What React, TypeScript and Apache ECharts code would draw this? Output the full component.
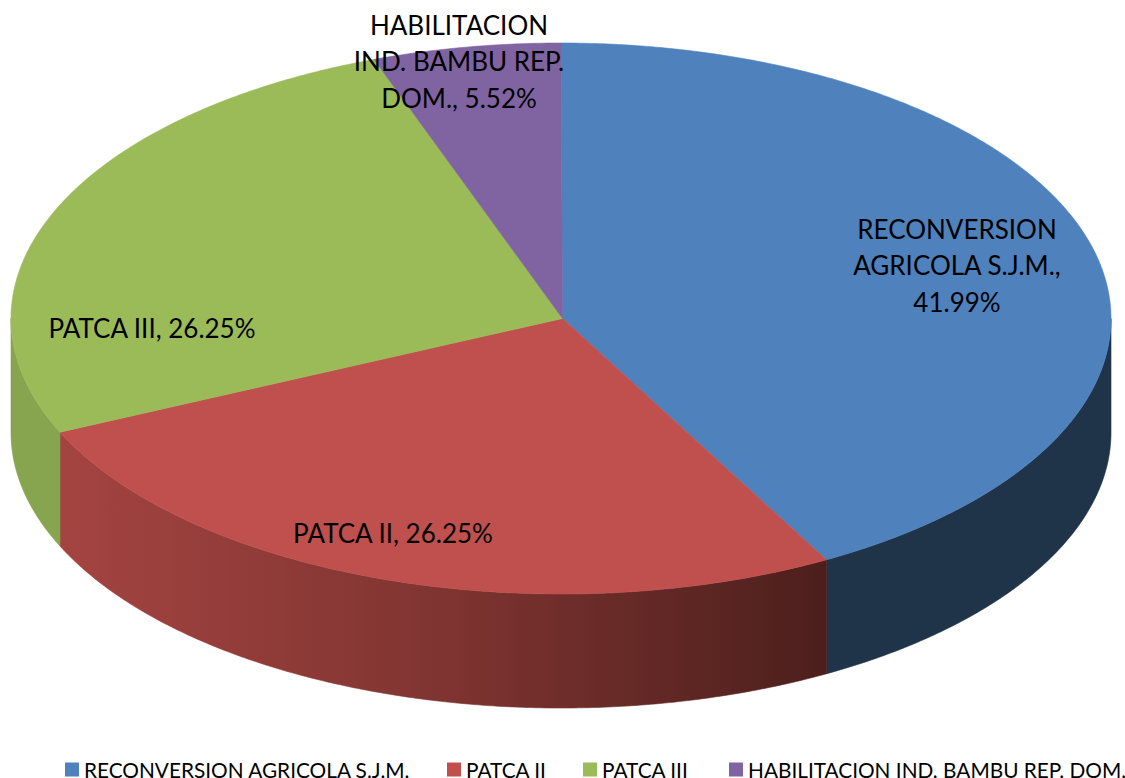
import React, { useEffect, useRef } from "react";
import * as echarts from "echarts";

const sliceNames = [
  "RECONVERSION AGRICOLA S.J.M.",
  "PATCA II",
  "PATCA III",
  "HABILITACION IND. BAMBU REP. DOM.",
];
const sliceValues = [41.99, 26.25, 26.25, 5.52];
const labelLines = [
  ["RECONVERSION", "AGRICOLA S.J.M.,"],
  ["PATCA II,"],
  ["PATCA III,"],
  ["HABILITACION", "IND. BAMBU REP.", "DOM.,"],
];
const breakAfter = [[true, true], [false], [false], [true, true, false]];
const topColors = ["#4F81BD", "#C0504D", "#9BBB59", "#8064A2"];
const labelCenters = [
  [957, 265],
  [393, 533],
  [152, 328],
  [459, 61],
];
const legendLefts = [65, 447, 583, 729];

const CX = 561;
const CY = 318.5;
const APEX_X = 562.5;
const RX = 550;
const RY = 275.5;
const DEPTH = 114;
const FONT = "Lato, 'Open Sans', sans-serif";

const total = sliceValues.reduce((a, b) => a + b, 0);
const rim = (deg: number, drop = 0): number[] => {
  const r = (deg * Math.PI) / 180;
  return [CX + RX * Math.sin(r), CY - RY * Math.cos(r) + drop];
};
const arcPoints = (from: number, to: number, drop = 0): number[][] => {
  const pts: number[][] = [];
  const n = Math.max(2, Math.ceil(Math.abs(to - from) * 2));
  for (let i = 0; i <= n; i++) pts.push(rim(from + ((to - from) * i) / n, drop));
  return pts;
};

const sideFill = (index: number): any => {
  if (index === 0) return "#1F3349";
  if (index === 2) return "#87A44F";
  return new echarts.graphic.LinearGradient(0, 0, 1, 0, [
    { offset: 0, color: "#A44441" },
    { offset: 0.5, color: "#7F3431" },
    { offset: 1, color: "#4C1F1C" },
  ]);
};

const makeRender = (index: number) => (_params: any, api: any) => {
  const before = sliceValues.slice(0, index).reduce((a, b) => a + b, 0);
  const start = (before / total) * 360;
  const end = start + (api.value(0) / total) * 360;
  const children: any[] = [];
  const wallFrom = Math.max(start, 90);
  const wallTo = Math.min(end, 270);
  if (wallTo > wallFrom) {
    const upper = arcPoints(wallFrom, wallTo);
    const lower = arcPoints(wallTo, wallFrom, DEPTH);
    const fill = sideFill(index);
    children.push({
      type: "polygon",
      shape: { points: upper.concat(lower) },
      style: { fill, stroke: fill, lineWidth: 0.6 },
    });
  }
  children.push({
    type: "polygon",
    shape: { points: [[APEX_X, CY] as number[]].concat(arcPoints(start, end)) },
    style: { fill: topColors[index], stroke: topColors[index], lineWidth: 0.6 },
  });
  const pct = `${sliceValues[index].toFixed(2)}%`;
  const lines = labelLines[index].slice();
  const breaks = breakAfter[index];
  let text = "";
  lines.forEach((l, i) => {
    text += l + (breaks[i] ? "\n" : " ");
  });
  children.push({
    type: "text",
    z2: 10,
    style: {
      text: text + pct,
      x: labelCenters[index][0],
      y: labelCenters[index][1],
      fill: "#000000",
      fontSize: 26,
      fontFamily: FONT,
      align: "center",
      verticalAlign: "middle",
      lineHeight: 36.5,
    },
  });
  return { type: "group", children };
};

export default function App() {
  const ref = useRef<HTMLDivElement>(null);
  useEffect(() => {
    document.body.style.margin = "0";
    const chart = echarts.init(ref.current!, undefined, { renderer: "svg" });
    chart.setOption({
      animation: false,
      backgroundColor: "#ffffff",
      legend: sliceNames.map((name, i) => ({
        data: [name],
        left: legendLefts[i],
        top: 759,
        padding: 0,
        icon: "rect",
        itemWidth: 14,
        itemHeight: 14,
        itemGap: 5,
        textStyle: { fontSize: 20.8, fontFamily: FONT, color: "#000000" },
      })),
      series: sliceNames.map((name, i) => ({
        type: "custom",
        name,
        coordinateSystem: "none",
        clip: false,
        itemStyle: { color: topColors[i] },
        renderItem: makeRender(i),
        data: [[sliceValues[i]]],
      })),
    });
    return () => chart.dispose();
  }, []);
  return (
    <div
      ref={ref}
      style={{ position: "absolute", left: 0, top: 0, width: 1125, height: 778, overflow: "hidden" }}
    />
  );
}
